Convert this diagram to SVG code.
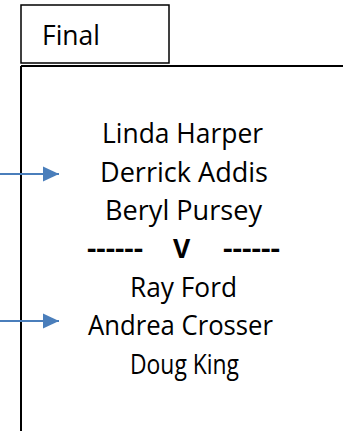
<svg xmlns="http://www.w3.org/2000/svg" width="343" height="431" viewBox="0 0 343 431">
<style>
.t{font-family:"Open Sans","Noto Sans",sans-serif;font-size:26.5px;fill:#000;text-anchor:middle}
.b{font-weight:bold}
.ln{stroke:#000;stroke-width:2;fill:none}
.ar{stroke:#4A7EBB;stroke-width:2;fill:none}
</style>
<defs>
<marker id="ah" markerUnits="userSpaceOnUse" markerWidth="16" markerHeight="16" refX="16" refY="8" orient="auto">
<path d="M0,0.5 L16,8 L0,15.5 Z" fill="#4A7EBB"/>
</marker>
</defs>
<g id="final-tab">
<rect x="21" y="5" width="148" height="58" fill="#fff" stroke="#000" stroke-width="1.5"/>
<text x="42" y="45" style="font-family:'Open Sans','Noto Sans',sans-serif;font-size:28px" textLength="58" lengthAdjust="spacingAndGlyphs">Final</text>
</g>
<g id="frame">
<path class="ln" d="M21,66 H343 M21,66 V431"/>
</g>
<g id="names">
<text class="t" x="182.5" y="143" textLength="161" lengthAdjust="spacingAndGlyphs">Linda Harper</text>
<text class="t" x="184" y="181.5" textLength="168" lengthAdjust="spacingAndGlyphs">Derrick Addis</text>
<text class="t" x="183.5" y="220" textLength="157" lengthAdjust="spacingAndGlyphs">Beryl Pursey</text>
<text class="t b" x="115" y="258" textLength="56" lengthAdjust="spacingAndGlyphs">------</text>
<text class="t b" x="181.5" y="258">V</text>
<text class="t b" x="251.5" y="258" textLength="57" lengthAdjust="spacingAndGlyphs">------</text>
<text class="t" x="183.5" y="297" textLength="107" lengthAdjust="spacingAndGlyphs">Ray Ford</text>
<text class="t" x="180.5" y="335" textLength="185" lengthAdjust="spacingAndGlyphs">Andrea Crosser</text>
<text class="t" x="184.5" y="373.5" textLength="109" lengthAdjust="spacingAndGlyphs">Doug King</text>
</g>
<g id="connectors">
<line class="ar" x1="0" y1="174" x2="59" y2="174" marker-end="url(#ah)"/>
<line class="ar" x1="0" y1="321" x2="59" y2="321" marker-end="url(#ah)"/>
</g>
</svg>
